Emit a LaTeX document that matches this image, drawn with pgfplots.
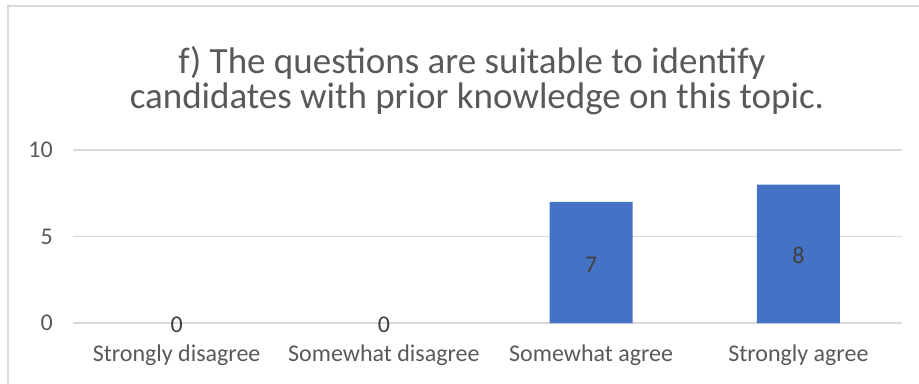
\documentclass[border=0pt]{standalone}
\usepackage{pgfplots}
\pgfplotsset{compat=1.18}
\usepackage{fontspec}
\setmainfont{Carlito}
\definecolor{barblue}{HTML}{4472C4}
\definecolor{gridgray}{HTML}{D9D9D9}
\definecolor{txtgray}{HTML}{595959}
\definecolor{lblgray}{HTML}{404040}
\begin{document}
\begin{tikzpicture}[x=1bp,y=1bp]
\useasboundingbox (0,0) rectangle (919,383);
\draw[gridgray, line width=2bp] (8,-5) -- (8,377) -- (925,377);
\node[anchor=base, text=txtgray, font=\fontsize{37bp}{42bp}\selectfont, inner sep=0pt] at (472,310) {f) The questions are suitable to identify};
\node[anchor=base, text=txtgray, font=\fontsize{37bp}{42bp}\selectfont, inner sep=0pt] at (477,275) {candidates with prior knowledge on this topic.};
\begin{axis}[
  at={(73bp,60bp)}, anchor=south west,
  scale only axis, width=829bp, height=173bp,
  xmin=-0.5, xmax=3.5, ymin=0, ymax=10,
  axis line style={draw=none},
  major tick length=0pt,
  ytick={0,5,10},
  xtick={0,1,2,3},
  xticklabels={Strongly disagree, Somewhat disagree, Somewhat agree, Strongly agree},
  ymajorgrids, grid style={gridgray, line width=1.5bp},
  /pgf/number format/assume math mode=true,
  tick label style={text=txtgray, font=\fontsize{24bp}{28bp}\selectfont, inner sep=0pt},
  yticklabel style={anchor=east, xshift=-20bp},
  xticklabel style={anchor=north, yshift=-22bp},
  clip=false,
]
\addplot[ybar, bar width=83bp, fill=barblue, draw=none] coordinates {(2,7) (3,8)};
\addplot[only marks, mark=none, nodes near coords, point meta=explicit symbolic,
  nodes near coords style={anchor=center, text=lblgray, font=\fontsize{24bp}{28bp}\selectfont, inner sep=0pt, yshift=-2bp}]
  coordinates {(0,0) [0] (1,0) [0] (2,3.5) [7] (3,4) [8]};
\end{axis}
\end{tikzpicture}
\end{document}
